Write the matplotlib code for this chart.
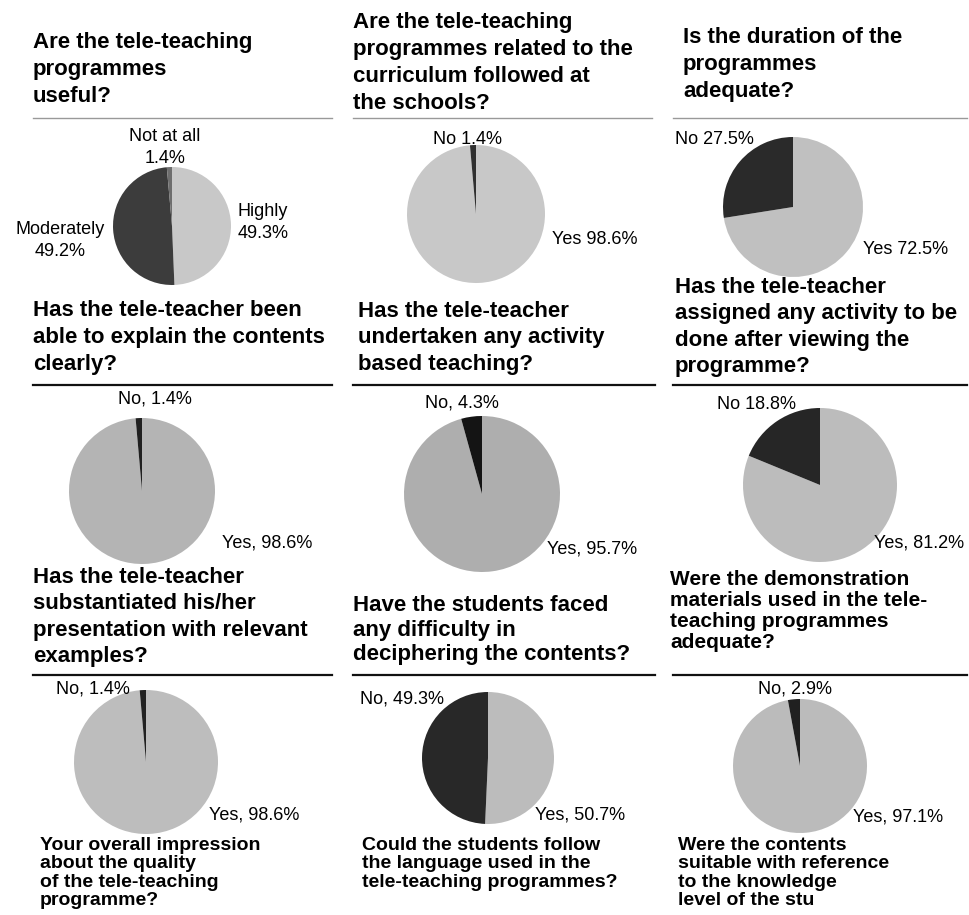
import matplotlib
matplotlib.use("Agg")
import matplotlib.pyplot as plt
from matplotlib.lines import Line2D

plt.rcParams['font.family'] = ['Liberation Sans', 'DejaVu Sans']

# questions above each pie
titles = [
    "Are the tele-teaching\nprogrammes\nuseful?",
    "Are the tele-teaching\nprogrammes related to the\ncurriculum followed at\nthe schools?",
    "Is the duration of the\nprogrammes\nadequate?",
    "Has the tele-teacher been\nable to explain the contents\nclearly?",
    "Has the tele-teacher\nundertaken any activity\nbased teaching?",
    "Has the tele-teacher\nassigned any activity to be\ndone after viewing the\nprogramme?",
    "Has the tele-teacher\nsubstantiated his/her\npresentation with relevant\nexamples?",
    "Have the students faced\nany difficulty in\ndeciphering the contents?",
    "Were the demonstration\nmaterials used in the tele-\nteaching programmes\nadequate?",
]

# questions cut off at the bottom of the page
bottom_titles = [
    "Your overall impression\nabout the quality\nof the tele-teaching\nprogramme?",
    "Could the students follow\nthe language used in the\ntele-teaching programmes?",
    "Were the contents\nsuitable with reference\nto the knowledge\nlevel of the stu",
]

slice_names = [
    ["Highly", "Moderately", "Not at all"],
    ["Yes", "No"],
    ["Yes", "No"],
    ["Yes", "No"],
    ["Yes", "No"],
    ["Yes", "No"],
    ["Yes", "No"],
    ["Yes", "No"],
    ["Yes", "No"],
]
slice_values = [
    [49.3, 49.2, 1.4],
    [98.6, 1.4],
    [72.5, 27.5],
    [98.6, 1.4],
    [95.7, 4.3],
    [81.2, 18.8],
    [98.6, 1.4],
    [50.7, 49.3],
    [97.1, 2.9],
]
label_seps = [
    ["\n", "\n", "\n"],
    [" ", " "],
    [" ", " "],
    [", ", ", "],
    [", ", ", "],
    [", ", " "],
    [", ", ", "],
    [", ", ", "],
    [", ", ", "],
]

# styles / layout (pixels of the 970x915 page)
slice_colors = [
    ["#c8c8c8", "#3c3c3c", "#6e6e6e"],
    ["#c8c8c8", "#303030"],
    ["#c0c0c0", "#2a2a2a"],
    ["#b4b4b4", "#202020"],
    ["#aeaeae", "#141414"],
    ["#bcbcbc", "#262626"],
    ["#bdbdbd", "#222222"],
    ["#bcbcbc", "#282828"],
    ["#bbbbbb", "#202020"],
]
pie_box = [(172, 226, 59), (476, 214, 69), (793, 207, 70),
           (142, 491, 73), (482, 494, 78), (820, 485, 77),
           (146, 762, 72), (488, 758, 66), (800, 766, 67)]
title_pos = [(33, 32), (353, 12), (683, 27),
             (33, 300), (358, 301), (675, 277),
             (33, 567), (353, 595), (670, 570)]
title_size = [16, 16, 16, 16, 16, 16, 16, 16, 15]
title_ls = [1.38, 1.38, 1.38, 1.38, 1.34, 1.34, 1.34, 1.23, 1.14]
# label placement for every slice: (x, y, ha)
label_pos = [
    [(263, 203, 'center'), (60, 221, 'center'), (165, 128, 'center')],
    [(552, 231, 'left'), (468, 131, 'center')],
    [(863, 241, 'left'), (675, 131, 'left')],
    [(222, 534, 'left'), (155, 390, 'center')],
    [(547, 540, 'left'), (462, 395, 'center')],
    [(874, 535, 'left'), (757, 396, 'center')],
    [(209, 806, 'left'), (93, 681, 'center')],
    [(535, 806, 'left'), (360, 691, 'left')],
    [(853, 808, 'left'), (795, 680, 'center')],
]
bottom_pos = [(40, 837), (362, 837), (678, 837)]
rules = [  # y, x0, x1, colour, width
    (118, 33, 332, "#999999", 1.0), (118, 353, 652, "#999999", 1.0), (118, 673, 967, "#999999", 1.0),
    (385, 33, 332, "#111111", 1.6), (385, 353, 655, "#111111", 1.6), (385, 673, 967, "#111111", 1.6),
    (675, 33, 332, "#111111", 1.6), (675, 353, 655, "#111111", 1.6), (675, 673, 967, "#111111", 1.6),
]

W, H = 970, 915
fig = plt.figure(figsize=(W / 100, H / 100), dpi=100)
fig.patch.set_facecolor("white")


def fx(x):
    return x / W


def fy(y):
    return 1 - y / H


for i in range(9):
    cx, cy, r = pie_box[i]
    ax = fig.add_axes([fx(cx - r), fy(cy + r), 2 * r / W, 2 * r / H])
    ax.pie(slice_values[i], colors=slice_colors[i], startangle=90,
           counterclock=False, wedgeprops={'linewidth': 0})
    ax.set_xlim(-1, 1)
    ax.set_ylim(-1, 1)
    ax.axis('off')

    tx, ty = title_pos[i]
    fig.text(fx(tx), fy(ty), titles[i], ha='left', va='top',
             fontsize=title_size[i], fontweight='bold', linespacing=title_ls[i])

    for name, val, sep, (lx, ly, ha) in zip(slice_names[i], slice_values[i],
                                            label_seps[i], label_pos[i]):
        fig.text(fx(lx), fy(ly), f"{name}{sep}{val}%", ha=ha, va='top',
                 fontsize=13, multialignment='center', linespacing=1.38)

for s, (bx, by) in zip(bottom_titles, bottom_pos):
    fig.text(fx(bx), fy(by), s, ha='left', va='top', fontsize=14,
             fontweight='bold', linespacing=1.1)

for y, x0, x1, c, lw in rules:
    fig.add_artist(Line2D([fx(x0), fx(x1)], [fy(y), fy(y)],
                          transform=fig.transFigure, color=c, linewidth=lw))

plt.savefig("out.png", dpi=100, facecolor="white")
